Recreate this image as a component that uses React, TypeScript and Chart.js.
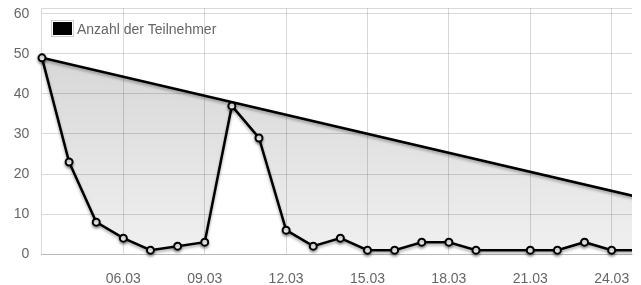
import { useEffect, useRef } from "react";
import { Chart, registerables } from "chart.js";

Chart.register(...registerables);

// ---- data ----
const dates = [
  "03.03", "04.03", "05.03", "06.03", "07.03", "08.03", "09.03", "10.03", "11.03",
  "12.03", "13.03", "14.03", "15.03", "16.03", "17.03", "18.03", "19.03",
  "21.03", "22.03", "23.03", "24.03", "25.03",
];
const participants = [
  49, 23, 8, 4, 1, 2, 3, 37, 29,
  6, 2, 4, 1, 1, 3, 3, 1,
  1, 1, 3, 1, 1,
];
// straight line drawn from the first entry to the (off-screen) end entry
const trendDates = ["03.03", "03.04"];
const trendValues = [49, 0];

const xTickLabels = ["06.03", "09.03", "12.03", "15.03", "18.03", "21.03", "24.03"];
const yTickValues = [0, 10, 20, 30, 40, 50, 60];
const seriesLabel = "Anzahl der Teilnehmer";

const xMinDate = "03.03";
const xMaxDay = 24.75;
const yMax = 61.33;

const dayNumber = (s: string) => {
  const [d, m] = s.split(".").map(Number);
  return (m - 3) * 31 + d;
};

const FONT_FAMILY = "Arial, 'Liberation Sans', Helvetica, sans-serif";

export default function App() {
  const ref = useRef<HTMLCanvasElement>(null);

  useEffect(() => {
    const canvas = ref.current;
    if (!canvas) return;
    const gridColor = "rgba(0,0,0,0.15)";
    const clip = { left: 8, top: 8, right: 0, bottom: 8 };

    const legendPlugin = {
      id: "insideLegend",
      afterDraw(chart: any) {
        const { ctx, chartArea } = chart;
        const bx = Math.round(chartArea.left) + 9.5;
        const by = Math.round(chartArea.top) + 12.5;
        ctx.save();
        ctx.strokeStyle = "#cccccc";
        ctx.lineWidth = 1;
        ctx.strokeRect(bx, by, 22, 16);
        ctx.fillStyle = "#000000";
        ctx.fillRect(bx + 1.5, by + 1.5, 19, 13);
        ctx.fillStyle = "#666666";
        ctx.font = `14px ${FONT_FAMILY}`;
        ctx.textAlign = "left";
        ctx.textBaseline = "alphabetic";
        ctx.fillText(seriesLabel, bx + 25.5, by + 13.5);
        ctx.restore();
      },
    };

    const shadowPlugin = {
      id: "lineShadow",
      beforeDatasetDraw(chart: any) {
        const c = chart.ctx;
        c.save();
        c.shadowColor = "rgba(0,0,0,0.35)";
        c.shadowBlur = 3;
        c.shadowOffsetX = 0;
        c.shadowOffsetY = 2;
      },
      afterDatasetDraw(chart: any) {
        chart.ctx.restore();
      },
    };

    const chart = new Chart(canvas, {
      type: "line",
      data: {
        datasets: [
          {
            label: seriesLabel,
            data: dates.map((d, i) => ({ x: dayNumber(d), y: participants[i] })),
            borderColor: "#000000",
            borderWidth: 2.5,
            pointRadius: 3.5,
            pointBorderWidth: 2,
            pointBackgroundColor: "#ffffff",
            pointBorderColor: "#000000",
            tension: 0,
            fill: 1,
            clip,
            backgroundColor: (context: any) => {
              const area = context.chart.chartArea;
              if (!area) return "rgba(0,0,0,0.1)";
              const g = context.chart.ctx.createLinearGradient(0, area.top, 0, area.bottom);
              g.addColorStop(0, "rgba(0,0,0,0.18)");
              g.addColorStop(1, "rgba(0,0,0,0.06)");
              return g;
            },
          },
          {
            label: "trend",
            data: trendDates.map((d, i) => ({ x: dayNumber(d), y: trendValues[i] })),
            borderColor: "#000000",
            borderWidth: 2.5,
            pointRadius: 0,
            tension: 0,
            fill: false,
            clip,
          },
        ],
      },
      options: {
        animation: false,
        responsive: true,
        maintainAspectRatio: false,
        events: [],
        layout: { padding: { left: 5.7, right: 1, top: 0, bottom: 0 } },
        plugins: {
          legend: { display: false },
          tooltip: { enabled: false },
        },
        scales: {
          x: {
            type: "linear",
            min: dayNumber(xMinDate),
            max: xMaxDay,
            afterBuildTicks: (axis: any) => {
              axis.ticks = xTickLabels.map((l) => ({ value: dayNumber(l) }));
            },
            ticks: {
              padding: 0,
              color: "#666666",
              font: { family: FONT_FAMILY, size: 14 },
              maxRotation: 0,
              autoSkip: false,
              callback: (value: any) => {
                const lbl = xTickLabels.find((l) => dayNumber(l) === value);
                return lbl ?? "";
              },
            },
            grid: {
              color: gridColor,
              drawTicks: true,
              tickLength: 17,
              tickColor: "rgba(0,0,0,0)",
            },
            border: { display: true, color: gridColor },
          },
          y: {
            type: "linear",
            min: 0,
            max: yMax,
            afterBuildTicks: (axis: any) => {
              axis.ticks = [...yTickValues, yMax].map((v) => ({ value: v }));
            },
            ticks: {
              padding: 0,
              color: "#666666",
              font: { family: FONT_FAMILY, size: 14 },
              callback: (value: any) => (yTickValues.includes(value) ? String(value) : ""),
            },
            grid: {
              color: gridColor,
              drawTicks: true,
              tickLength: 12.7,
              tickColor: "rgba(0,0,0,0)",
            },
            border: { display: true, color: gridColor },
          },
        },
      },
      plugins: [shadowPlugin, legendPlugin],
    } as any);

    return () => chart.destroy();
  }, []);

  return (
    <div style={{ position: "fixed", left: 8, top: 0, width: 630, height: 288 }}>
      <canvas ref={ref} />
    </div>
  );
}
